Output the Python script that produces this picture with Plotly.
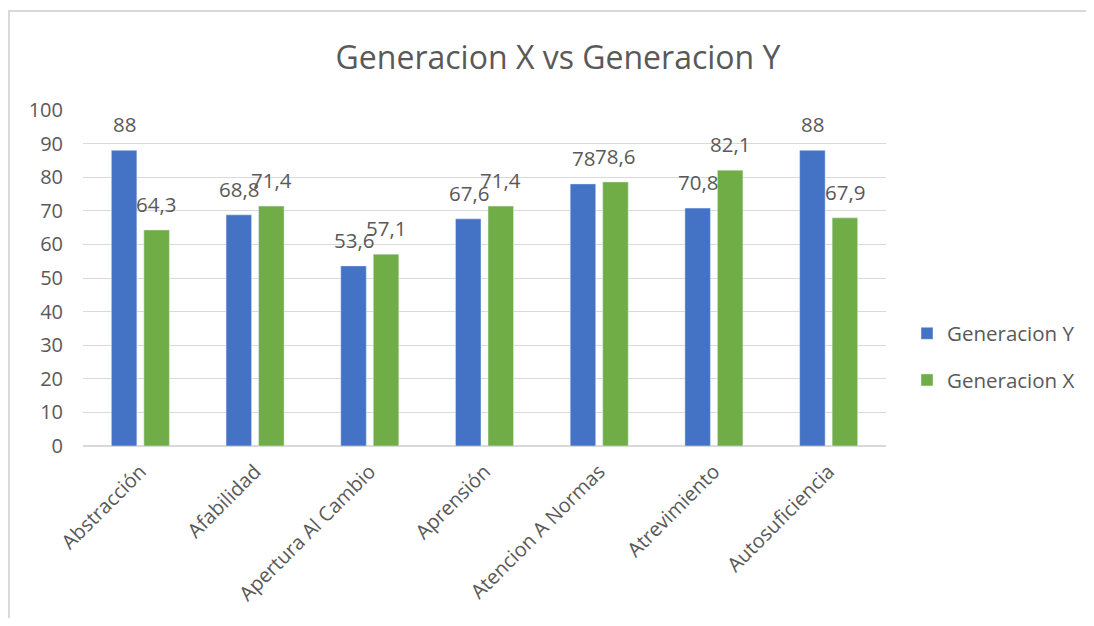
import plotly.graph_objects as go

categories = ["Abstracción", "Afabilidad", "Apertura Al Cambio", "Aprensión",
              "Atencion A Normas", "Atrevimiento", "Autosuficiencia"]
gen_y = [88, 68.8, 53.6, 67.6, 78, 70.8, 88]
gen_x = [64.3, 71.4, 57.1, 71.4, 78.6, 82.1, 67.9]
y_ticks = [0, 10, 20, 30, 40, 50, 60, 70, 80, 90, 100]

BLUE = "#4472C4"
GREEN = "#70AD47"
TXT = "#595959"
GRID = "#D9D9D9"
FONT = "Open Sans"

# page body has an 8px margin, so the figure is sized to fit the window exactly
W, H = 1078, 610
L, R, T, B = 75, 200, 102, 172

def fmt(v):
    return ("%g" % v).replace(".", ",")

fig = go.Figure()
fig.add_trace(go.Bar(name="Generacion Y", x=categories, y=gen_y, marker_color=BLUE,
                     legendgroup="y"))
fig.add_trace(go.Bar(name="Generacion X", x=categories, y=gen_x, marker_color=GREEN,
                     legendgroup="x"))

annotations = []
for series, shift in ((gen_y, -16), (gen_x, 16)):
    for c, v in zip(categories, series):
        annotations.append(dict(x=c, y=v, xref="x", yref="y", text=fmt(v),
                                showarrow=False, xshift=shift, yshift=10,
                                yanchor="bottom",
                                font=dict(size=20.5, color=TXT, family=FONT)))

fig.update_layout(
    width=W, height=H,
    margin=dict(l=L, r=R, t=T, b=B, pad=0, autoexpand=False),
    paper_bgcolor="white", plot_bgcolor="white",
    font=dict(family=FONT, color=TXT, size=20),
    title=dict(text="Generacion X vs Generacion Y", x=550 / W, xanchor="center",
               y=1 - 50 / H, yanchor="middle",
               font=dict(size=32, color=TXT, family=FONT)),
    barmode="group", bargap=0.433, bargroupgap=0.215,
    legend=dict(xref="container", x=899 / W, xanchor="left", y=0.265, yanchor="middle",
                font=dict(size=20.5, color=TXT, family=FONT), tracegroupgap=17,
                bgcolor="rgba(0,0,0,0)"),
    annotations=annotations,
    showlegend=True,
)
fig.update_xaxes(tickangle=-45, showgrid=False, showline=False, ticks="",
                 ticklabelstandoff=9, automargin=False,
                 tickfont=dict(size=20, color=TXT, family=FONT))
fig.update_yaxes(range=[0, 100], tickvals=y_ticks, showgrid=True, gridcolor=GRID,
                 gridwidth=1, zeroline=True, zerolinecolor=GRID, zerolinewidth=2,
                 showline=False, ticks="", ticklabelstandoff=19, automargin=False,
                 tickfont=dict(size=20, color=TXT, family=FONT))

# outer chart frame (cut by the window on the right and bottom, as in the reference)
pw, ph = W - L - R, H - T - B
fig.add_shape(type="rect", xref="paper", yref="paper",
              x0=(1 - L) / pw, x1=1.6, y0=-1.0, y1=(ph + T - 3) / ph,
              line=dict(color=GRID, width=2), layer="below")

fig.write_html("out.html")
